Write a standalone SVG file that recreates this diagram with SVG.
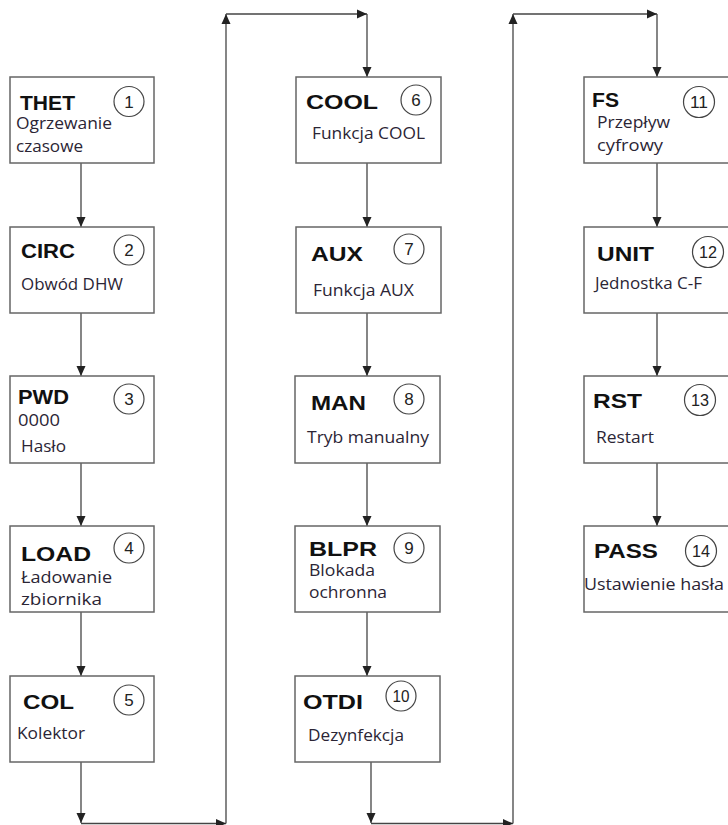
<svg xmlns="http://www.w3.org/2000/svg" width="728" height="825" viewBox="0 0 728 825">
<defs>
<marker id="ah" markerUnits="userSpaceOnUse" markerWidth="12" markerHeight="12" viewBox="0 0 12 12" refX="11" refY="6" orient="auto">
<path d="M1,1.5 L11,6 L1,10.5 Z" fill="#222"/>
</marker>
<style>
.box{fill:#fff;stroke:#666;stroke-width:1.5}
.t{font-family:"Liberation Sans",Arial,sans-serif;font-weight:bold;font-size:21px;fill:#111}
.s{font-family:"Open Sans","Noto Sans",sans-serif;font-size:16px;fill:#2b2535}
.c{fill:none;stroke:#444;stroke-width:1.2}
.n{font-family:"Liberation Sans",Arial,sans-serif;font-size:17px;fill:#222;text-anchor:middle}
.ln{fill:none;stroke:#444;stroke-width:1.3;marker-end:url(#ah)}
</style>
</defs>
<rect width="728" height="825" fill="#fff"/>
<g id="connectors">
<line class="ln" x1="81" y1="163" x2="81" y2="227"/>
<line class="ln" x1="81" y1="313" x2="81" y2="376"/>
<line class="ln" x1="81" y1="463" x2="81" y2="526"/>
<line class="ln" x1="81" y1="612" x2="81" y2="676"/>
<line class="ln" x1="81" y1="762" x2="81" y2="823"/>
<line class="ln" x1="81" y1="823.5" x2="226" y2="823.5"/>
<line class="ln" x1="226" y1="823.5" x2="226" y2="14"/>
<line class="ln" x1="226" y1="14" x2="367" y2="14"/>
<line class="ln" x1="367" y1="14" x2="367" y2="77"/>
<line class="ln" x1="367" y1="163" x2="367" y2="227"/>
<line class="ln" x1="367" y1="313" x2="367" y2="376"/>
<line class="ln" x1="367" y1="463" x2="367" y2="526"/>
<line class="ln" x1="367" y1="612" x2="367" y2="676"/>
<line class="ln" x1="371" y1="762" x2="371" y2="823"/>
<line class="ln" x1="371" y1="823.5" x2="513" y2="823.5"/>
<line class="ln" x1="513" y1="823.5" x2="513" y2="14"/>
<line class="ln" x1="513" y1="14" x2="657" y2="14"/>
<line class="ln" x1="657" y1="14" x2="657" y2="77"/>
<line class="ln" x1="657" y1="163" x2="657" y2="227"/>
<line class="ln" x1="657" y1="313" x2="657" y2="376"/>
<line class="ln" x1="657" y1="463" x2="657" y2="526"/>
</g>
<g id="node1">
<rect class="box" x="10" y="77" width="144" height="86"/>
<text class="t" x="20" y="110" textLength="55" lengthAdjust="spacingAndGlyphs">THET</text>
<circle class="c" cx="129" cy="101.5" r="15"/><text class="n" x="129" y="107.5">1</text>
<text class="s" x="16" y="129" textLength="96" lengthAdjust="spacingAndGlyphs">Ogrzewanie</text>
<text class="s" x="16" y="152" textLength="67" lengthAdjust="spacingAndGlyphs">czasowe</text>
</g>
<g id="node2">
<rect class="box" x="10" y="227" width="144" height="86"/>
<text class="t" x="21" y="258" textLength="54" lengthAdjust="spacingAndGlyphs">CIRC</text>
<circle class="c" cx="129" cy="250" r="15"/><text class="n" x="129" y="256">2</text>
<text class="s" x="21" y="290" textLength="102" lengthAdjust="spacingAndGlyphs">Obwód DHW</text>
</g>
<g id="node3">
<rect class="box" x="10" y="376" width="144" height="87"/>
<text class="t" x="18" y="404" textLength="51" lengthAdjust="spacingAndGlyphs">PWD</text>
<circle class="c" cx="129" cy="399" r="15"/><text class="n" x="129" y="405">3</text>
<text class="s" x="18" y="426" textLength="42" lengthAdjust="spacingAndGlyphs">0000</text>
<text class="s" x="21" y="452" textLength="45" lengthAdjust="spacingAndGlyphs">Hasło</text>
</g>
<g id="node4">
<rect class="box" x="10" y="526" width="144" height="86"/>
<text class="t" x="21" y="561" textLength="70" lengthAdjust="spacingAndGlyphs">LOAD</text>
<circle class="c" cx="129" cy="548" r="15"/><text class="n" x="129" y="554">4</text>
<text class="s" x="21" y="583" textLength="91" lengthAdjust="spacingAndGlyphs">Ładowanie</text>
<text class="s" x="21" y="605" textLength="81" lengthAdjust="spacingAndGlyphs">zbiornika</text>
</g>
<g id="node5">
<rect class="box" x="10" y="676" width="144" height="86"/>
<text class="t" x="23" y="709" textLength="51" lengthAdjust="spacingAndGlyphs">COL</text>
<circle class="c" cx="129" cy="700" r="15"/><text class="n" x="129" y="706">5</text>
<text class="s" x="17" y="739" textLength="68" lengthAdjust="spacingAndGlyphs">Kolektor</text>
</g>
<g id="node6">
<rect class="box" x="296" y="77" width="145" height="86"/>
<text class="t" x="306" y="109" textLength="72" lengthAdjust="spacingAndGlyphs">COOL</text>
<circle class="c" cx="416" cy="100" r="15"/><text class="n" x="416" y="106">6</text>
<text class="s" x="312" y="139" textLength="113" lengthAdjust="spacingAndGlyphs">Funkcja COOL</text>
</g>
<g id="node7">
<rect class="box" x="296" y="227" width="145" height="86"/>
<text class="t" x="311" y="261" textLength="52" lengthAdjust="spacingAndGlyphs">AUX</text>
<circle class="c" cx="409" cy="249" r="15"/><text class="n" x="409" y="255">7</text>
<text class="s" x="313" y="296" textLength="101" lengthAdjust="spacingAndGlyphs">Funkcja AUX</text>
</g>
<g id="node8">
<rect class="box" x="295" y="376" width="145" height="87"/>
<text class="t" x="311" y="410" textLength="55" lengthAdjust="spacingAndGlyphs">MAN</text>
<circle class="c" cx="409" cy="399" r="15"/><text class="n" x="409" y="405">8</text>
<text class="s" x="307" y="443" textLength="122" lengthAdjust="spacingAndGlyphs">Tryb manualny</text>
</g>
<g id="node9">
<rect class="box" x="295" y="526" width="145" height="86"/>
<text class="t" x="309" y="556" textLength="68" lengthAdjust="spacingAndGlyphs">BLPR</text>
<circle class="c" cx="409" cy="548" r="15"/><text class="n" x="409" y="554">9</text>
<text class="s" x="309" y="576" textLength="66" lengthAdjust="spacingAndGlyphs">Blokada</text>
<text class="s" x="309" y="598" textLength="78" lengthAdjust="spacingAndGlyphs">ochronna</text>
</g>
<g id="node10">
<rect class="box" x="295" y="676" width="145" height="86"/>
<text class="t" x="303" y="709" textLength="60" lengthAdjust="spacingAndGlyphs">OTDI</text>
<circle class="c" cx="401" cy="696" r="15"/><text class="n" x="401" y="702" textLength="17" lengthAdjust="spacingAndGlyphs">10</text>
<text class="s" x="308" y="741" textLength="96" lengthAdjust="spacingAndGlyphs">Dezynfekcja</text>
</g>
<g id="node11">
<rect class="box" x="584" y="77" width="146" height="86"/>
<text class="t" x="592" y="107" textLength="27" lengthAdjust="spacingAndGlyphs">FS</text>
<circle class="c" cx="699" cy="102" r="15.5"/><text class="n" x="699" y="108" textLength="18" lengthAdjust="spacingAndGlyphs">11</text>
<text class="s" x="597" y="128" textLength="73" lengthAdjust="spacingAndGlyphs">Przepływ</text>
<text class="s" x="597" y="151" textLength="66" lengthAdjust="spacingAndGlyphs">cyfrowy</text>
</g>
<g id="node12">
<rect class="box" x="584" y="227" width="146" height="86"/>
<text class="t" x="597" y="261" textLength="57" lengthAdjust="spacingAndGlyphs">UNIT</text>
<circle class="c" cx="708" cy="252" r="15.5"/><text class="n" x="708" y="258" textLength="18" lengthAdjust="spacingAndGlyphs">12</text>
<text class="s" x="595" y="289" textLength="107" lengthAdjust="spacingAndGlyphs">Jednostka C-F</text>
</g>
<g id="node13">
<rect class="box" x="584" y="376" width="146" height="87"/>
<text class="t" x="593" y="408" textLength="49" lengthAdjust="spacingAndGlyphs">RST</text>
<circle class="c" cx="700" cy="400" r="15.5"/><text class="n" x="700" y="406" textLength="18" lengthAdjust="spacingAndGlyphs">13</text>
<text class="s" x="596" y="443" textLength="58" lengthAdjust="spacingAndGlyphs">Restart</text>
</g>
<g id="node14">
<rect class="box" x="584" y="526" width="146" height="86"/>
<text class="t" x="594" y="558" textLength="64" lengthAdjust="spacingAndGlyphs">PASS</text>
<circle class="c" cx="701" cy="551" r="15.5"/><text class="n" x="701" y="557" textLength="18" lengthAdjust="spacingAndGlyphs">14</text>
<text class="s" x="584" y="590" textLength="140" lengthAdjust="spacingAndGlyphs">Ustawienie hasła</text>
</g>
</svg>
